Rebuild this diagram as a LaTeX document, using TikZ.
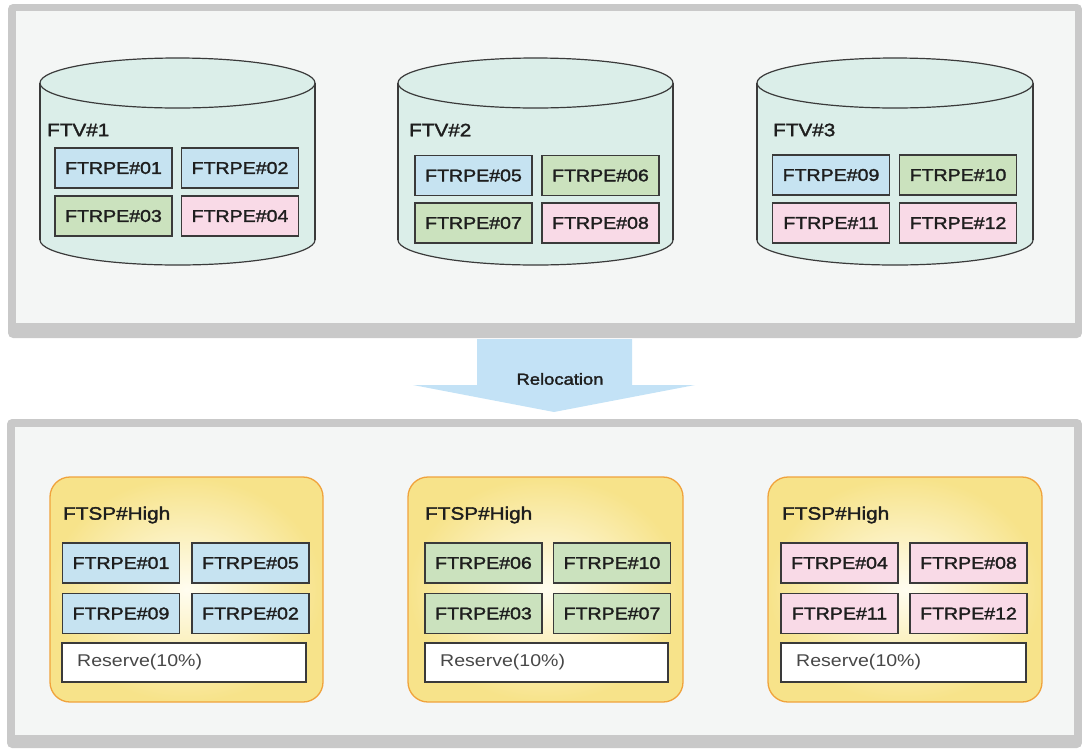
\documentclass[tikz,border=0pt]{standalone}
\usepackage{fontspec}
\setmainfont{Liberation Sans}[FakeStretch=1.15]
\newfontfamily\lblfont{Liberation Sans}[FakeStretch=1.15,FakeBold=1.8]
\definecolor{panelgray}{HTML}{C9C9C9}
\definecolor{panelin}{HTML}{F4F6F5}
\definecolor{cylfill}{HTML}{DBEEE9}
\definecolor{cylline}{HTML}{3A3A3A}
\definecolor{bluebox}{HTML}{C6E3F1}
\definecolor{greenbox}{HTML}{CBE2BE}
\definecolor{pinkbox}{HTML}{F9DAE7}
\definecolor{boxline}{HTML}{3A3A3A}
\definecolor{poolline}{HTML}{F0A33C}
\definecolor{poolin}{HTML}{FFFDF0}
\definecolor{poolout}{HTML}{F7E38A}
\definecolor{arrowblue}{HTML}{C3E2F6}
\definecolor{txt}{HTML}{1E1E1E}
\tikzset{
  pebox/.style={draw=boxline, line width=1.3pt, minimum width=117pt, minimum height=40pt,
    inner sep=0pt, font=\lblfont\fontsize{17}{20}\selectfont, text=txt},
  bluepe/.style={pebox, fill=bluebox},
  greenpe/.style={pebox, fill=greenbox},
  pinkpe/.style={pebox, fill=pinkbox},
  reservebox/.style={draw=boxline, line width=1.3pt, fill=white, minimum width=244pt,
    minimum height=39pt, inner sep=0pt},
  reservetxt/.style={anchor=west, inner sep=0pt, font=\fontsize{17}{20}\selectfont, text=black!72},
  title/.style={anchor=west, inner sep=0pt, font=\lblfont\fontsize{18}{21}\selectfont, text=txt},
  pool/.style={draw=poolline, line width=1.3pt, rounded corners=20pt, inner sep=0pt,
    shading=radial, inner color=poolin, outer color=poolout, minimum height=225pt},
  cylline/.style={draw=cylline, line width=1.2pt},
}
\newcommand{\cyl}[3]{% left x, right x, center x
  \fill[cylfill] (#1,83) rectangle (#2,240);
  \fill[cylfill] (#3,240) ellipse [x radius={(#2-#1)/2}, y radius=25];
  \begin{scope}
    \clip (#1-3,240) rectangle (#2+3,272);
    \draw[cylline] (#3,240) ellipse [x radius={(#2-#1)/2}, y radius=25];
  \end{scope}
  \draw[cylline] (#1,83) -- (#1,240) (#2,83) -- (#2,240);
  \draw[cylline, fill=cylfill] (#3,83) ellipse [x radius={(#2-#1)/2}, y radius=25];
}
\begin{document}
\begin{tikzpicture}[x=1pt, y=-1pt]
\useasboundingbox (0,0) rectangle (1082,748);
% panels
\fill[panelgray, rounded corners=5pt] (8,4) rectangle (1082,338);
\fill[panelin] (16,11) rectangle (1075,323);
\fill[panelgray, rounded corners=5pt] (7,419) rectangle (1082,748);
\fill[panelin] (15,427) rectangle (1074,735);

% cylinders
\cyl{40}{315}{177.5}
\cyl{398}{673}{535.5}
\cyl{757}{1033}{895}

\node[title] (ftv1) at (47,130) {FTV\#1};
\node[title] (ftv2) at (409,130) {FTV\#2};
\node[title] (ftv3) at (773,130) {FTV\#3};

\node[bluepe]  (t01) at (113.5,168) {FTRPE\#01};
\node[bluepe]  (t02) at (240,168) {FTRPE\#02};
\node[greenpe] (t03) at (113.5,216) {FTRPE\#03};
\node[pinkpe]  (t04) at (240,216) {FTRPE\#04};

\node[bluepe]  (t05) at (473.5,175.5) {FTRPE\#05};
\node[greenpe] (t06) at (600.5,175.5) {FTRPE\#06};
\node[greenpe] (t07) at (473.5,223) {FTRPE\#07};
\node[pinkpe]  (t08) at (600.5,223) {FTRPE\#08};

\node[bluepe]  (t09) at (831,175) {FTRPE\#09};
\node[greenpe] (t10) at (958,175) {FTRPE\#10};
\node[pinkpe]  (t11) at (831,223) {FTRPE\#11};
\node[pinkpe]  (t12) at (958,223) {FTRPE\#12};

% relocation arrow
\fill[arrowblue] (477,339) -- (632,339) -- (632,385) -- (695,385) -- (554,412)
  -- (413,385) -- (477,385) -- cycle;
\node[inner sep=0pt, font=\lblfont\fontsize{16}{19}\selectfont, text=txt] (reloc) at (560,379) {Relocation};

% pools
\node[pool, minimum width=273pt] (p1) at (186.5,589.5) {};
\node[pool, minimum width=275pt] (p2) at (545.5,589.5) {};
\node[pool, minimum width=274pt] (p3) at (905,589.5) {};

\node[title] (h1) at (63,515) {FTSP\#High};
\node[title] (h2) at (425,515) {FTSP\#High};
\node[title] (h3) at (782,515) {FTSP\#High};

\node[bluepe] (b01) at (121,563) {FTRPE\#01};
\node[bluepe] (b05) at (250.5,563) {FTRPE\#05};
\node[bluepe] (b09) at (121,613.5) {FTRPE\#09};
\node[bluepe] (b02) at (250.5,613.5) {FTRPE\#02};
\node[reservebox] (r1) at (184,662.5) {};
\node[reservetxt] (r1t) at (77,662.5) {Reserve(10\%)};

\node[greenpe] (b06) at (483.5,563) {FTRPE\#06};
\node[greenpe] (b10) at (612,563) {FTRPE\#10};
\node[greenpe] (b03) at (483.5,613.5) {FTRPE\#03};
\node[greenpe] (b07) at (612,613.5) {FTRPE\#07};
\node[reservebox, minimum width=243pt] (r2) at (546.5,662.5) {};
\node[reservetxt] (r2t) at (440,662.5) {Reserve(10\%)};

\node[pinkpe] (b04) at (839.5,563) {FTRPE\#04};
\node[pinkpe] (b08) at (968.5,563) {FTRPE\#08};
\node[pinkpe] (b11) at (839.5,613.5) {FTRPE\#11};
\node[pinkpe] (b12) at (968.5,613.5) {FTRPE\#12};
\node[reservebox, minimum width=245pt] (r3) at (903.5,662.5) {};
\node[reservetxt] (r3t) at (796,662.5) {Reserve(10\%)};
\end{tikzpicture}
\end{document}
